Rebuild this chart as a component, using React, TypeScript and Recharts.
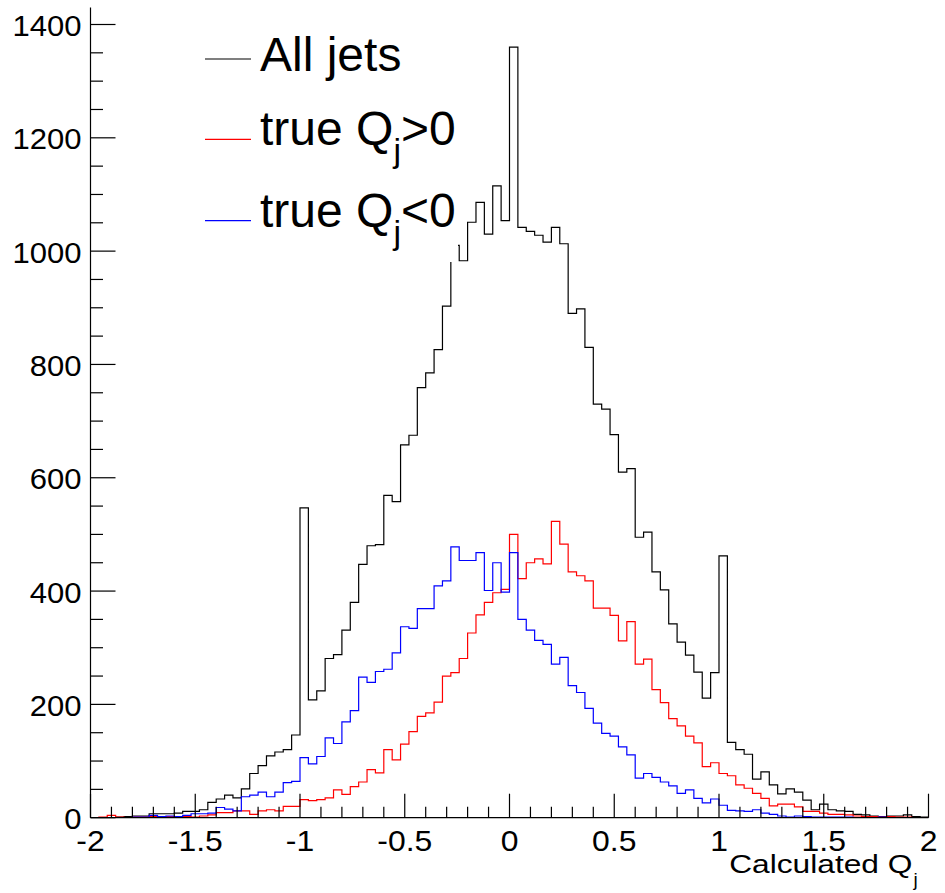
import { LineChart, Line, XAxis, YAxis, Legend } from 'recharts'

// 100 bins of width 0.04 between -2 and 2
const BIN_LO = -2
const BIN_W = 0.04

const allJets = [
  0, 0, 0, 1, 2, 3, 3, 7, 7, 7,
  8, 11, 11, 14, 27, 33, 40, 35, 51, 78,
  92, 109, 116, 120, 146, 547, 208, 224, 281, 288,
  331, 380, 447, 480, 482, 569, 558, 658, 675, 759,
  785, 826, 903, 1010, 983, 1051, 1086, 1030, 1115, 1054,
  1360, 1042, 1035, 1028, 1016, 1042, 1013, 890, 898, 830,
  730, 721, 676, 610, 616, 495, 504, 434, 402, 342,
  310, 287, 257, 211, 256, 462, 133, 120, 112, 68,
  81, 58, 42, 51, 45, 31, 14, 24, 14, 12,
  11, 6, 5, 3, 2, 3, 3, 5, 2, 1,
]

const truePos = [
  0, 1, 4, 1, 0, 1, 1, 2, 1, 2,
  1, 2, 1, 3, 5, 9, 9, 12, 12, 6,
  12, 14, 12, 20, 20, 32, 30, 32, 35, 49,
  41, 55, 63, 85, 79, 120, 102, 130, 152, 179,
  185, 204, 250, 256, 281, 326, 358, 380, 397, 403,
  500, 422, 450, 457, 448, 523, 483, 434, 427, 418,
  370, 370, 357, 312, 346, 271, 280, 226, 203, 175,
  162, 144, 132, 90, 97, 78, 74, 58, 52, 43,
  34, 21, 24, 24, 19, 11, 11, 8, 6, 6,
  5, 3, 2, 2, 1, 2, 1, 1, 0, 0,
]

const trueNeg = [
  0, 0, 0, 0, 0, 1, 1, 4, 2, 3,
  2, 4, 7, 7, 8, 18, 15, 12, 37, 40,
  45, 37, 45, 62, 64, 106, 95, 108, 141, 131,
  169, 189, 248, 239, 258, 262, 291, 337, 334, 369,
  369, 409, 418, 478, 454, 454, 468, 401, 450, 398,
  468, 350, 331, 313, 306, 271, 283, 233, 221, 193,
  167, 149, 144, 125, 111, 70, 78, 71, 63, 56,
  43, 49, 34, 26, 33, 22, 13, 12, 11, 14,
  8, 6, 3, 1, 3, 2, 1, 1, 1, 1,
  1, 0, 0, 0, 1, 0, 0, 0, 0, 0,
]

const xMajorTicks = [-2, -1.5, -1, -0.5, 0, 0.5, 1, 1.5, 2]
const yMajorTicks = [0, 200, 400, 600, 800, 1000, 1200, 1400]
const X_MINOR_STEP = 0.1
const Y_MINOR_STEP = 50
const Y_MAX = 1430

const SERIES = [
  { key: 'all', color: '#000000', label: ['All jets', '', ''] },
  { key: 'pos', color: '#ff0000', label: ['true Q', 'j', '>0'] },
  { key: 'neg', color: '#0000ff', label: ['true Q', 'j', '<0'] },
]

// step histogram rows: one point per bin left edge, plus the closing edge
const rows = allJets.map((v, i) => ({
  x: +(BIN_LO + i * BIN_W).toFixed(2),
  all: v,
  pos: truePos[i],
  neg: trueNeg[i],
}))
rows.push({ x: 2, all: allJets[99], pos: truePos[99], neg: trueNeg[99] })

const xTicks: number[] = []
for (let k = 0; k <= 40; k++) xTicks.push(Math.round((xMajorTicks[0] + k * X_MINOR_STEP) * 10) / 10)
const yTicks: number[] = []
for (let v = 0; v <= 1400; v += Y_MINOR_STEP) yTicks.push(v)

const FONT = '"Liberation Sans", Arial, Helvetica, sans-serif'

function XTick({ x, y, payload }: any) {
  const v = payload.value
  const major = xMajorTicks.some(t => Math.abs(t - v) < 1e-6)
  return (
    <g>
      <line x1={x} x2={x} y1={y} y2={y - (major ? 24 : 11)} stroke="#000" strokeWidth={1.2} />
      {major && (
        <text transform={`translate(${x} ${y + 33}) scale(1.1 1)`} textAnchor="middle" fontSize={29} fontFamily={FONT} fill="#000">
          {`${v}`}
        </text>
      )}
    </g>
  )
}

function YTick({ x, y, payload }: any) {
  const v = payload.value
  const major = yMajorTicks.includes(v)
  return (
    <g>
      <line x1={x} x2={x + (major ? 25 : 12.5)} y1={y} y2={y} stroke="#000" strokeWidth={1.2} />
      {major && (
        <text transform={`translate(${x - 9} ${y + 11.5}) scale(1.07 1)`} textAnchor="end" fontSize={29} fontFamily={FONT} fill="#000">
          {v}
        </text>
      )}
    </g>
  )
}

function XTitle({ viewBox }: any) {
  const right = viewBox.x + viewBox.width - 7
  const base = viewBox.y + 55
  return (
    <g>
      <text transform={`translate(${right - 9} ${base}) scale(1.22 1)`} textAnchor="end" fontSize={26} fontFamily={FONT} fill="#000">
        Calculated Q
      </text>
      <text x={right - 8} y={base + 13} fontSize={19} fontFamily={FONT} fill="#000">j</text>
    </g>
  )
}

// legend rows (relative to the white legend box)
const LEG_LINE_Y = [39, 119.3, 200.7]
const LEG_TEXT_Y = [51, 125, 206.7]

function HistLegend() {
  return (
    <div style={{ background: '#fff', width: 268, height: 242 }}>
      <svg width={268} height={242}>
        {SERIES.map((s, i) => (
          <g key={s.key}>
            <line x1={15} x2={61} y1={LEG_LINE_Y[i]} y2={LEG_LINE_Y[i]} stroke={s.color} strokeWidth={1.2} />
            <text x={70} y={LEG_TEXT_Y[i]} fontSize={48} fontFamily={FONT} fill="#000">
              <tspan>{s.label[0]}</tspan>
              {s.label[1] && <tspan fontSize={34} dy={17}>{s.label[1]}</tspan>}
              {s.label[1] && <tspan fontSize={48} dy={-17}>{s.label[2]}</tspan>}
            </text>
          </g>
        ))}
      </svg>
    </div>
  )
}

export default function App() {
  return (
    <div style={{ position: 'absolute', left: 0, top: 0, width: 945, height: 893, background: '#fff' }}>
      <LineChart width={945} height={893} data={rows} margin={{ top: 7.5, right: 16.5, left: 0, bottom: 0 }}>
        <XAxis
          dataKey="x"
          type="number"
          domain={[-2, 2]}
          ticks={xTicks}
          interval={0}
          height={75.3}
          tickSize={0}
          tickMargin={0}
          tickLine={false}
          tick={<XTick />}
          axisLine={{ stroke: '#000', strokeWidth: 1.2 }}
          label={<XTitle />}
          allowDataOverflow
        />
        <XAxis xAxisId="top" orientation="top" type="number" domain={[-2, 2]} height={0} tick={false} tickLine={false} axisLine={{ stroke: '#000', strokeWidth: 1.2 }} />
        <YAxis
          type="number"
          domain={[0, Y_MAX]}
          ticks={yTicks}
          interval={0}
          width={90.5}
          tickSize={0}
          tickMargin={0}
          tickLine={false}
          tick={<YTick />}
          axisLine={{ stroke: '#000', strokeWidth: 1.2 }}
          allowDataOverflow
        />
        <YAxis yAxisId="right" orientation="right" type="number" domain={[0, Y_MAX]} width={0} tick={false} tickLine={false} axisLine={{ stroke: '#000', strokeWidth: 1.2 }} />
        {SERIES.map(s => (
          <Line
            key={s.key}
            dataKey={s.key}
            type="stepAfter"
            stroke={s.color}
            strokeWidth={1.2}
            dot={false}
            activeDot={false}
            isAnimationActive={false}
          />
        ))}
        <Legend
          layout="horizontal"
          verticalAlign="middle"
          align="center"
          width={268}
          height={242}
          wrapperStyle={{ left: 190, top: 20, width: 268, height: 242 }}
          content={() => <HistLegend />}
        />
      </LineChart>
    </div>
  )
}
